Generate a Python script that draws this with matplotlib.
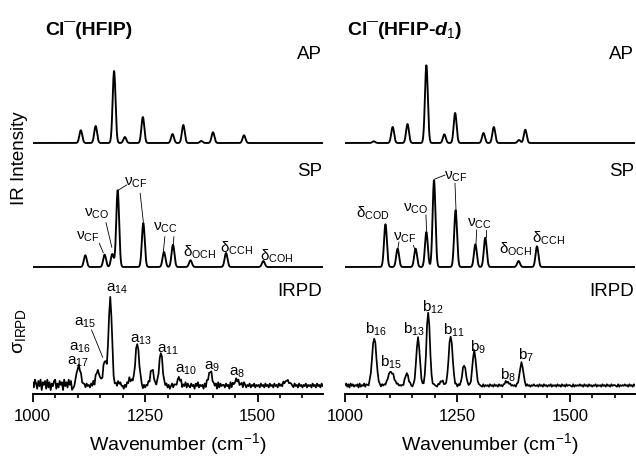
"""Cl-(HFIP) / Cl-(HFIP-d1): computed AP/SP spectra and IRPD spectra."""

import numpy as np
import matplotlib

matplotlib.use("Agg")
import matplotlib.pyplot as plt
from matplotlib.ticker import MultipleLocator

plt.rcParams["font.family"] = ["Liberation Sans", "DejaVu Sans"]
plt.rcParams["mathtext.fontset"] = "custom"
plt.rcParams["mathtext.rm"] = "Liberation Sans"
plt.rcParams["mathtext.it"] = "Liberation Sans:italic:bold"
plt.rcParams["mathtext.bf"] = "Liberation Sans:bold"

# ── peak data (position cm-1, height in drawing units) ────────────────────────
ap_left_pos = [1107, 1140, 1181, 1205, 1245, 1311, 1335, 1375, 1401, 1470]
ap_left_int = [12.7, 17, 72, 6, 26, 9, 18, 2, 10.7, 7.7]
sp_left_pos = [1117, 1160, 1177, 1189, 1246, 1292, 1312, 1351, 1430, 1513]
sp_left_int = [11.7, 12.3, 13, 76.7, 44, 15, 22.3, 6.7, 14, 6]

ap_right_pos = [1064, 1106, 1139, 1181, 1221, 1245, 1308, 1331, 1387, 1401]
ap_right_int = [1.7, 16, 19, 77.7, 8.7, 30, 10, 16, 3, 13.3]
sp_right_pos = [1090, 1117, 1157, 1181, 1198, 1246, 1290, 1312, 1386, 1427]
sp_right_int = [42.7, 18.3, 18.3, 35, 86.7, 56.7, 22.7, 29.3, 6, 20.7]

irpd_left_pos = [1102.5, 1145, 1160, 1172.5, 1192.5, 1217.5, 1232.5, 1265, 1285, 1325, 1395, 1455, 1565]
irpd_left_int = [19, 15, 24, 88, 5, 6, 42, 17, 33, 8, 15, 6, 4]
irpd_left_fwhm = [12, 11, 8, 9, 8, 10, 10, 9, 9, 10, 9, 12, 15]

irpd_right_pos = [1065, 1102.5, 1137.5, 1162.5, 1185, 1215, 1235, 1265, 1287.5, 1360, 1392.5]
irpd_right_int = [48, 14, 12, 48, 74, 5, 50, 21, 35, 4, 23]
irpd_right_fwhm = [11, 15, 9, 9, 9, 8, 10, 9, 9, 10, 9]

# baseline noise of the IRPD traces, one digit per 2.5 cm-1 from 1000 cm-1
noise_left = (
    "7396284917 5829371648 9263857194 7395812245 4635245364 5364726453 "
    "4536475645 3524635243 4253647354 5364536425 3546253645 4635463546 "
    "3524635424 5362547364 3645264735 4526374536 3546273645 5364527364 "
    "4635246375 3546354635 4536453645 3645364536 4536455645 5436453645 "
    "3546354536 4536453645"
)
noise_right = (
    "5736274635 4627354736 5364453645 4536453546 5436354645 4536455364 "
    "3546453645 4536354546 5436453645 4546354536 3645463545 4536453645 "
    "5436354536 4536453645 3546354645 4536453546 5364535464 4536453645 "
    "3546354536 4536453645 5436354546 4536453645 3546354536 4536453645 "
    "5436354546 4536453645"
)

labels_left = [
    ("ν$_{\\mathrm{CF}}$", 1122, 157), ("ν$_{\\mathrm{CO}}$", 1142, 180),
    ("ν$_{\\mathrm{CF}}$", 1229, 211), ("ν$_{\\mathrm{CC}}$", 1296, 166.5),
    ("δ$_{\\mathrm{OCH}}$", 1372, 141.5), ("δ$_{\\mathrm{CCH}}$", 1454, 146),
    ("δ$_{\\mathrm{COH}}$", 1543, 137.5),
    ("a$_{\\mathrm{14}}$", 1186.7, 105), ("a$_{\\mathrm{15}}$", 1116, 71.5),
    ("a$_{\\mathrm{16}}$", 1105, 46.5), ("a$_{\\mathrm{17}}$", 1101.4, 32.3),
    ("a$_{\\mathrm{13}}$", 1240, 54), ("a$_{\\mathrm{11}}$", 1301.6, 44),
    ("a$_{\\mathrm{10}}$", 1340, 24), ("a$_{\\mathrm{9}}$", 1400, 27.7),
    ("a$_{\\mathrm{8}}$", 1455.5, 20.7),
]
leaders_left = [
    (1148, 150.7, 1157, 141.3), (1163, 171.3, 1176, 146.7),
    (1209, 209, 1191, 204), (1239, 200.7, 1246, 172.3),
    (1294, 157.3, 1290.5, 142.3), (1314, 157.3, 1313, 150),
    (1131, 64, 1155.7, 36.7),
]
labels_right = [
    ("δ$_{\\mathrm{COD}}$", 1063, 180.7), ("ν$_{\\mathrm{CF}}$", 1133.4, 156.5),
    ("ν$_{\\mathrm{CO}}$", 1158, 185.7), ("ν$_{\\mathrm{CF}}$", 1246.5, 217.3),
    ("ν$_{\\mathrm{CC}}$", 1298.4, 170.7), ("δ$_{\\mathrm{OCH}}$", 1380, 145),
    ("δ$_{\\mathrm{CCH}}$", 1452, 155.7),
    ("b$_{\\mathrm{16}}$", 1068, 65), ("b$_{\\mathrm{15}}$", 1103, 31.5),
    ("b$_{\\mathrm{13}}$", 1153.5, 64.3), ("b$_{\\mathrm{12}}$", 1196.4, 86.5),
    ("b$_{\\mathrm{11}}$", 1243, 64), ("b$_{\\mathrm{9}}$", 1295.4, 46.5),
    ("b$_{\\mathrm{8}}$", 1363, 18.2), ("b$_{\\mathrm{7}}$", 1403, 38.2),
]
leaders_right = [
    (1120, 152, 1117.5, 145), (1152, 148.5, 1156, 144),
    (1180, 179, 1181.4, 163.3), (1222.4, 219, 1198.6, 214.7),
    (1244.6, 210.7, 1246.9, 184), (1292.9, 164, 1291.3, 150),
    (1313.6, 164, 1313.6, 157.3),
]

AP_BASE, SP_BASE, IRPD_BASE = 251, 127, 7
XMIN, XMAX = 1000, 1645


def gauss_sum(x, pos, amp, fwhm):
    y = np.zeros_like(x, dtype=float)
    for p, a, w in zip(pos, amp, np.broadcast_to(fwhm, len(pos))):
        y += a * np.exp(-4 * np.log(2) * ((x - p) / w) ** 2)
    return y


def draw_panel(ax, ap, sp, irpd, noise, noise_amp, labels, leaders, title):
    x = np.arange(XMIN, XMAX + 0.5, 0.5)
    ax.plot(x, AP_BASE + gauss_sum(x, *ap, 7.5), color="black", lw=1.35)
    ax.plot(x, SP_BASE + gauss_sum(x, *sp, 7.5), color="black", lw=1.35)

    digits = np.array([int(c) for c in noise.replace(" ", "")], dtype=float)
    xe = XMIN + 2.5 * np.arange(len(digits))
    ye = IRPD_BASE + 1.5 + gauss_sum(xe, *irpd) + (digits - 4.5) * noise_amp
    ax.plot(xe, ye, color="black", lw=1.25)

    for txt, lx, ly in labels:
        ax.text(lx, ly, txt, fontsize=11, ha="center", va="center")
    for x0, y0, x1, y1 in leaders:
        ax.plot([x0, x1], [y0, y1], color="black", lw=0.6)

    for txt, ly in (("AP", 340), ("SP", 223), ("IRPD", 102.5)):
        ax.text(XMAX - 2, ly, txt, fontsize=13.5, ha="right", va="center")
    ax.text(title[1], 364, title[0], fontsize=14, fontweight="bold",
            ha="left", va="center")

    ax.set_xlim(XMIN, XMAX)
    ax.set_ylim(0, 394)
    ax.xaxis.set_major_locator(MultipleLocator(250))
    ax.xaxis.set_minor_locator(MultipleLocator(50))
    ax.tick_params(axis="x", which="major", length=6, width=1.3, labelsize=12, pad=5)
    ax.tick_params(axis="x", which="minor", length=3, width=1.2)
    ax.set_yticks([])
    for s in ("top", "left", "right"):
        ax.spines[s].set_visible(False)
    ax.spines["bottom"].set_linewidth(1.4)
    ax.set_xlabel("Wavenumber (cm$^{\\mathrm{-1}}$)", fontsize=14, labelpad=5)


fig = plt.figure(figsize=(6.36, 4.58), dpi=100)
axl = fig.add_axes([32.7 / 636, 64 / 458, 290 / 636, 394 / 458])
axr = fig.add_axes([345 / 636, 64 / 458, 290 / 636, 394 / 458])
axl.patch.set_alpha(0)
axr.patch.set_alpha(0)

draw_panel(axl, (ap_left_pos, ap_left_int), (sp_left_pos, sp_left_int),
           (irpd_left_pos, irpd_left_int, irpd_left_fwhm), noise_left, 1.3,
           labels_left, leaders_left, ("Cl¯(HFIP)", 1027))
draw_panel(axr, (ap_right_pos, ap_right_int), (sp_right_pos, sp_right_int),
           (irpd_right_pos, irpd_right_int, irpd_right_fwhm), noise_right, 0.8,
           labels_right, leaders_right, ("Cl¯(HFIP-$\\mathit{d_1}$)", 1004.5))

fig.text(20 / 636, 1 - 158 / 458, "IR Intensity", fontsize=13.5, rotation=90,
         ha="center", va="center")
fig.text(20 / 636, 1 - 331 / 458, "σ$_{\\mathrm{IRPD}}$", fontsize=14,
         rotation=90, ha="center", va="center")

fig.savefig("out.png", dpi=100, facecolor="white")
